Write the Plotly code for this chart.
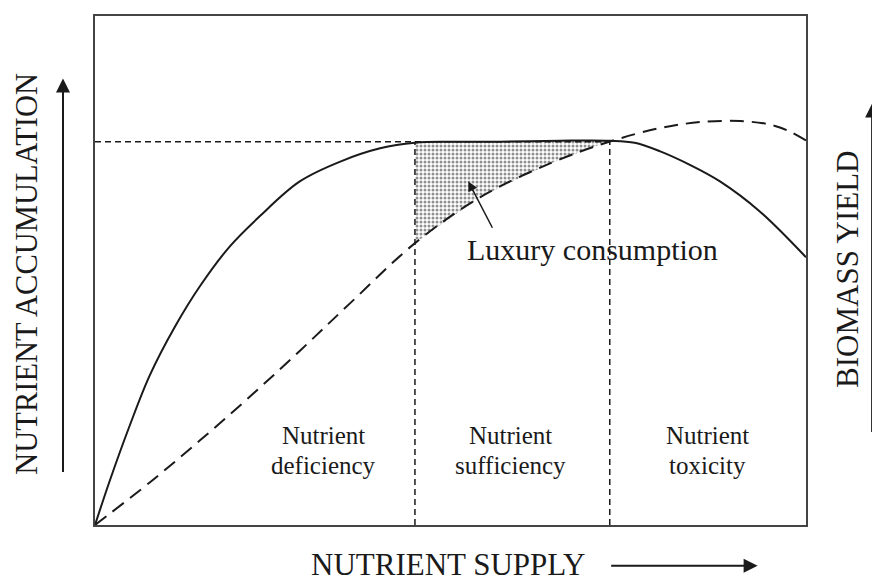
import plotly.graph_objects as go

# Nutrient accumulation curve (solid), x = nutrient supply (0-100), y = relative level (0-100)
acc_x = [0, 2.1, 4.9, 7.7, 11.3, 14.8, 19.0, 23.2, 28.8, 34.5, 40.1, 45.0, 49.9, 57.0, 65.4, 72.4, 75.9, 79.5, 83.6, 87.9, 93.5, 100]
acc_y = [0, 8.8, 19.6, 29.4, 39.1, 47.0, 54.8, 60.7, 67.5, 71.4, 74.0, 75.1, 75.3, 75.3, 75.5, 75.5, 75.1, 73.4, 70.8, 67.5, 61.6, 52.6]

# Biomass yield curve (dashed)
yld_x = [0, 7.74, 14.77, 21.80, 28.83, 35.86, 45.01, 54.15, 64.00, 72.43, 79.47, 85.09, 90.72, 94.94, 97.75, 100]
yld_y = [0, 8.41, 16.63, 25.24, 34.25, 43.54, 55.38, 64.38, 71.04, 75.34, 77.98, 79.16, 79.35, 78.67, 77.30, 75.54]

# Zone boundaries and plateau level
plateau = 75.3
bound_1 = 45.0
bound_2 = 72.4

zone_line1 = ["Nutrient", "Nutrient", "Nutrient"]
zone_line2 = ["deficiency", "sufficiency", "toxicity"]
zone_x = [32.1, 58.5, 86.2]
zone_y1 = 17.6
zone_y2 = 11.7

FONT = "Liberation Serif, Times New Roman, serif"
INK = "#1a1a1a"

fig = go.Figure()

# luxury consumption shaded polygon: accumulation (top) between bounds, yield (bottom) reversed
top = [(x, y) for x, y in zip(acc_x, acc_y) if bound_1 <= x <= bound_2 + 0.01]
bot = [(x, y) for x, y in zip(yld_x, yld_y) if bound_1 <= x <= bound_2 + 0.01][::-1]
poly = top + bot
fig.add_trace(go.Scatter(
    x=[p[0] for p in poly] + [poly[0][0]],
    y=[p[1] for p in poly] + [poly[0][1]],
    mode="lines", line=dict(width=0), fill="toself",
    fillcolor="rgba(0,0,0,0)",
    fillpattern=dict(shape=".", size=4, solidity=0.45, fgcolor="#222", bgcolor="white"),
    hoverinfo="skip", showlegend=False))

# plateau reference line
fig.add_trace(go.Scatter(x=[0, bound_2], y=[plateau, plateau], mode="lines",
                         line=dict(color=INK, width=1.5, dash="6px,4px"), showlegend=False))
# vertical boundaries
for b in (bound_1, bound_2):
    fig.add_trace(go.Scatter(x=[b, b], y=[0, plateau], mode="lines",
                             line=dict(color=INK, width=1.5, dash="6px,4px"), showlegend=False))

fig.add_trace(go.Scatter(x=yld_x, y=yld_y, mode="lines", line_shape="spline",
                         line=dict(color=INK, width=2, dash="14px,8px"), showlegend=False))
fig.add_trace(go.Scatter(x=acc_x, y=acc_y, mode="lines", line_shape="spline",
                         line=dict(color=INK, width=2), showlegend=False))

ann = []
for t1, t2, x in zip(zone_line1, zone_line2, zone_x):
    ann.append(dict(x=x, y=zone_y1, xref="x", yref="y", text=t1, showarrow=False,
                    font=dict(family=FONT, size=25, color=INK)))
    ann.append(dict(x=x, y=zone_y2, xref="x", yref="y", text=t2, showarrow=False,
                    font=dict(family=FONT, size=25, color=INK)))

ann.append(dict(x=70.0, y=54.2, xref="x", yref="y", text="Luxury consumption", showarrow=False,
                font=dict(family=FONT, size=30, color=INK)))
ann.append(dict(x=52.5, y=67.5, xref="x", yref="y", ax=56.0, ay=58.1, axref="x", ayref="y",
                text="", showarrow=True, arrowhead=2, arrowsize=1.3, arrowwidth=1.5, arrowcolor=INK))

# axis titles
ann.append(dict(x=-0.096, y=0.493, xref="paper", yref="paper", text="NUTRIENT ACCUMULATION",
                textangle=-90, showarrow=False, xanchor="center", yanchor="middle",
                font=dict(family=FONT, size=30.5, color=INK)))
ann.append(dict(x=1.059, y=0.503, xref="paper", yref="paper", text="BIOMASS YIELD",
                textangle=-90, showarrow=False, xanchor="center", yanchor="middle",
                font=dict(family=FONT, size=31, color=INK)))
ann.append(dict(x=0.4965, y=-0.078, xref="paper", yref="paper", text="NUTRIENT SUPPLY",
                showarrow=False, xanchor="center", yanchor="middle",
                font=dict(family=FONT, size=31, color=INK)))

# direction arrows
ann.append(dict(x=-0.045, y=0.877, xref="paper", yref="paper", text="", showarrow=True,
                xanchor="center", yanchor="middle",
                ax=0, ay=395, arrowhead=2, arrowsize=1.4, arrowwidth=2, arrowcolor=INK))
ann.append(dict(x=1.093, y=0.828, xref="paper", yref="paper", text="", showarrow=True,
                xanchor="center", yanchor="middle",
                ax=0, ay=330, arrowhead=2, arrowsize=1.4, arrowwidth=2, arrowcolor=INK))
ann.append(dict(x=0.932, y=-0.080, xref="paper", yref="paper", text="", showarrow=True,
                xanchor="center", yanchor="middle",
                ax=-148, ay=0, arrowhead=2, arrowsize=1.4, arrowwidth=2, arrowcolor=INK))

axis_common = dict(showgrid=False, zeroline=False, showticklabels=False, ticks="",
                   showline=True, linecolor="#444", linewidth=2, mirror=True, fixedrange=True)

# the page body has an 8px margin, so the figure is drawn 8px smaller and offset
fig.update_layout(
    width=872, height=575,
    margin=dict(l=87, r=74, t=6, b=58),
    paper_bgcolor="white", plot_bgcolor="white",
    xaxis=dict(range=[0, 100], **axis_common),
    yaxis=dict(range=[0, 100], **axis_common),
    annotations=ann,
    showlegend=False,
)

fig.write_html("out.html")
